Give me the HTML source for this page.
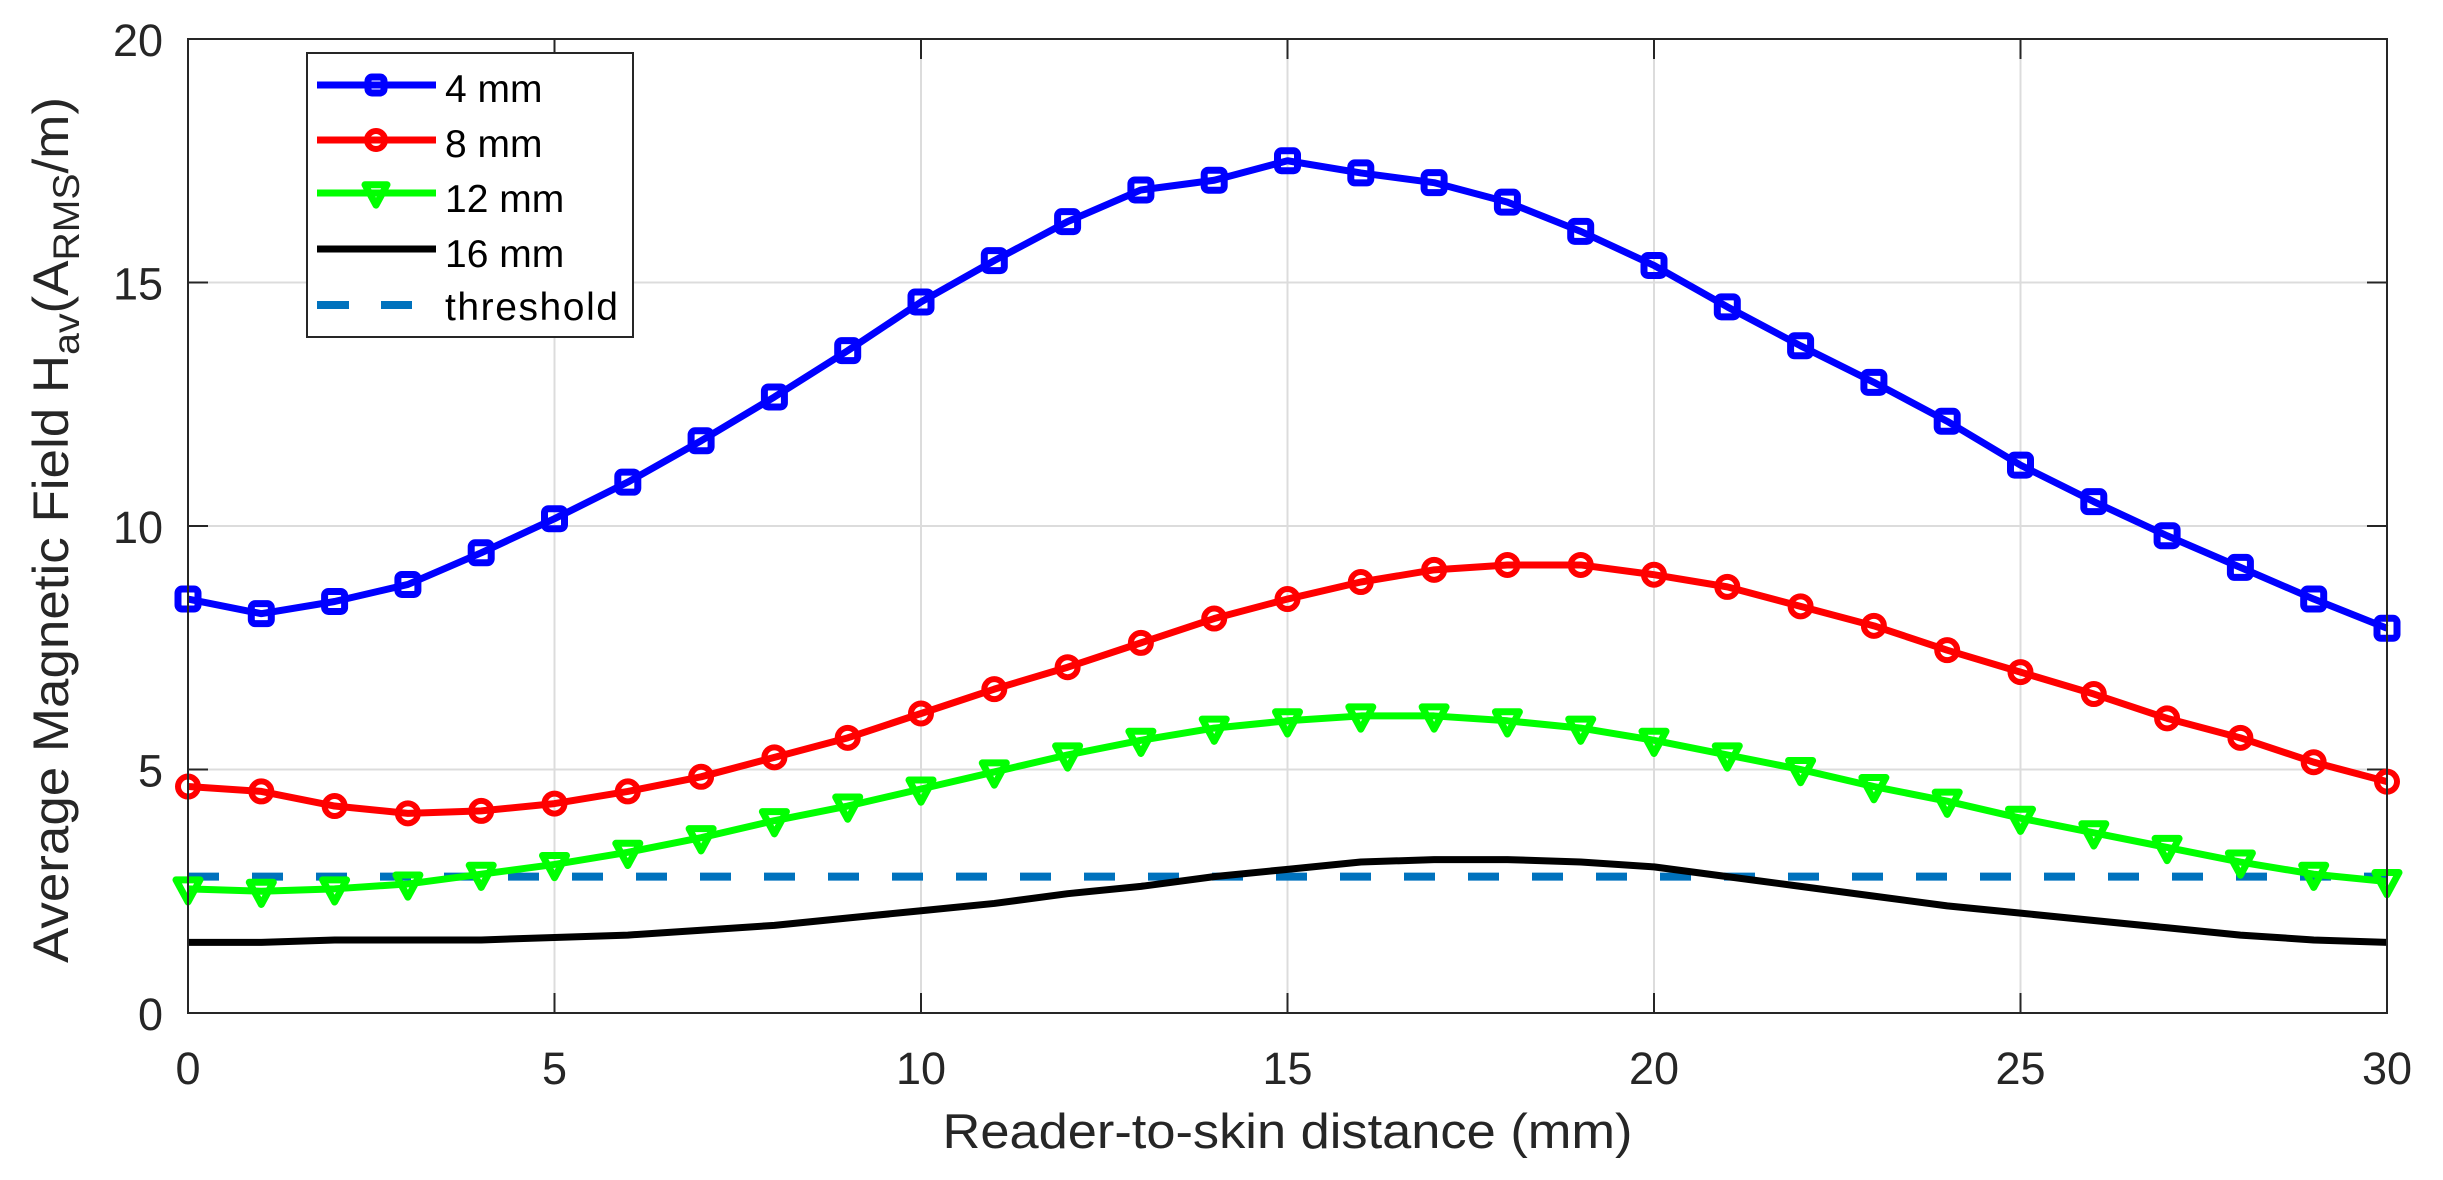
<!DOCTYPE html>
<html><head><meta charset="utf-8"><style>
html,body{margin:0;padding:0;background:#fff;}
svg{display:block;}
text{font-family:"Liberation Sans",Arial,sans-serif;fill:#262626;}
</style></head><body>
<svg id="s" width="2443" height="1180" xmlns="http://www.w3.org/2000/svg"></svg>
<script>
const s=document.getElementById('s');
const X0=188,X1=2387,Y0=1013,Y1=39;
const px=x=>X0+(X1-X0)*x/30, py=y=>Y0+(Y1-Y0)*y/20;
let h='';
for(let i=5;i<30;i+=5)h+=`<line x1="${px(i)}" y1="${Y1}" x2="${px(i)}" y2="${Y0}" stroke="#dcdcdc" stroke-width="2"/>`;
for(let j=5;j<20;j+=5)h+=`<line x1="${X0}" y1="${py(j)}" x2="${X1}" y2="${py(j)}" stroke="#dcdcdc" stroke-width="2"/>`;
for(let i=0;i<=30;i+=5){h+=`<line x1="${px(i)}" y1="${Y0}" x2="${px(i)}" y2="${Y0-20}" stroke="#262626" stroke-width="2"/><line x1="${px(i)}" y1="${Y1}" x2="${px(i)}" y2="${Y1+20}" stroke="#262626" stroke-width="2"/>`;
h+=`<text x="${px(i)}" y="1084" font-size="45" text-anchor="middle">${i}</text>`;}
for(let j=0;j<=20;j+=5){h+=`<line x1="${X0}" y1="${py(j)}" x2="${X0+20}" y2="${py(j)}" stroke="#262626" stroke-width="2"/><line x1="${X1}" y1="${py(j)}" x2="${X1-20}" y2="${py(j)}" stroke="#262626" stroke-width="2"/>`;
h+=`<text x="${X0-25}" y="${py(j)+17}" font-size="45" text-anchor="end">${j}</text>`;}
const d4=[8.5,8.2,8.45,8.8,9.45,10.15,10.9,11.75,12.65,13.6,14.6,15.45,16.25,16.9,17.1,17.5,17.25,17.05,16.65,16.05,15.35,14.5,13.7,12.95,12.15,11.25,10.5,9.8,9.15,8.5,7.9];
const d8=[4.65,4.55,4.25,4.1,4.15,4.3,4.55,4.85,5.25,5.65,6.15,6.65,7.1,7.6,8.1,8.5,8.85,9.1,9.2,9.2,9.0,8.75,8.35,7.95,7.45,7.0,6.55,6.05,5.65,5.15,4.75];
const d12=[2.55,2.5,2.55,2.65,2.85,3.05,3.3,3.6,3.95,4.25,4.6,4.95,5.3,5.6,5.85,6.0,6.1,6.1,6.0,5.85,5.6,5.3,5.0,4.65,4.35,4.0,3.7,3.4,3.1,2.85,2.7];
const d16=[1.45,1.45,1.5,1.5,1.5,1.55,1.6,1.7,1.8,1.95,2.1,2.25,2.45,2.6,2.8,2.95,3.1,3.15,3.15,3.1,3.0,2.8,2.6,2.4,2.2,2.05,1.9,1.75,1.6,1.5,1.45];
const pl=(d,c)=>`<polyline fill="none" stroke="${c}" stroke-width="7" stroke-linejoin="round" points="${d.map((v,i)=>px(i)+','+py(v)).join(' ')}"/>`;
const sq=(x,y,c,r=10)=>`<rect x="${x-r}" y="${y-r}" width="${2*r}" height="${2*r}" rx="4" fill="none" stroke="${c}" stroke-width="7"/>`;
const ci=(x,y,c,r=10)=>`<circle cx="${x}" cy="${y}" r="${r}" fill="none" stroke="${c}" stroke-width="6"/>`;
const tr=(x,y,c,r=12)=>`<path d="M${x-r},${y-r*0.75} L${x+r},${y-r*0.75} L${x},${y+r*1.1} Z" fill="none" stroke="${c}" stroke-width="7" stroke-linejoin="round"/>`;
h+=`<line x1="${X0}" y1="${py(2.8)}" x2="${X1}" y2="${py(2.8)}" stroke="#0072BD" stroke-width="8" stroke-dasharray="31,33"/>`;
h+=pl(d16,'#000');
h+=pl(d12,'#00ff00');d12.forEach((v,i)=>h+=tr(px(i),py(v),'#00ff00'));
h+=pl(d8,'#ff0000');d8.forEach((v,i)=>h+=ci(px(i),py(v),'#ff0000'));
h+=pl(d4,'#0000ff');d4.forEach((v,i)=>h+=sq(px(i),py(v),'#0000ff'));
h+=`<rect x="${X0}" y="${Y1}" width="${X1-X0}" height="${Y0-Y1}" fill="none" stroke="#262626" stroke-width="2"/>`;
// legend
h+=`<rect x="307" y="53" width="326" height="284" fill="#fff" stroke="#262626" stroke-width="2"/>`;
const ly=[85,140,193,249,305], by=[102,157,212,267,320];
const lab=['4 mm','8 mm','12 mm','16 mm','threshold'];
const col=['#0000ff','#ff0000','#00ff00','#000','#0072BD'];
for(let k=0;k<5;k++){
 if(k<4)h+=`<line x1="317" y1="${ly[k]}" x2="436" y2="${ly[k]}" stroke="${col[k]}" stroke-width="7"/>`;
 else h+=`<line x1="317" y1="${ly[k]}" x2="412" y2="${ly[k]}" stroke="${col[k]}" stroke-width="8" stroke-dasharray="32,32"/>`;
 if(k==0)h+=sq(376,ly[k],col[k],8); if(k==1)h+=ci(376,ly[k],col[k],9); if(k==2)h+=tr(376,ly[k],col[k],11);
 h+=`<text x="445" y="${by[k]}" font-size="39" style="fill:#000"${k==4?' textLength="173"':''}>${lab[k]}</text>`;
}
h+=`<text x="${(X0+X1)/2}" y="1148" font-size="49" text-anchor="middle" textLength="690" lengthAdjust="spacingAndGlyphs">Reader-to-skin distance (mm)</text>`;
h+=`<text transform="translate(68,530) rotate(-90)" font-size="50" text-anchor="middle" textLength="866" lengthAdjust="spacingAndGlyphs">Average Magnetic Field H<tspan font-size="37" dy="11">av</tspan><tspan dy="-11">(A</tspan><tspan font-size="37" dy="11">RMS</tspan><tspan dy="-11">/m)</tspan></text>`;
s.innerHTML=h;
</script>
</body></html>
